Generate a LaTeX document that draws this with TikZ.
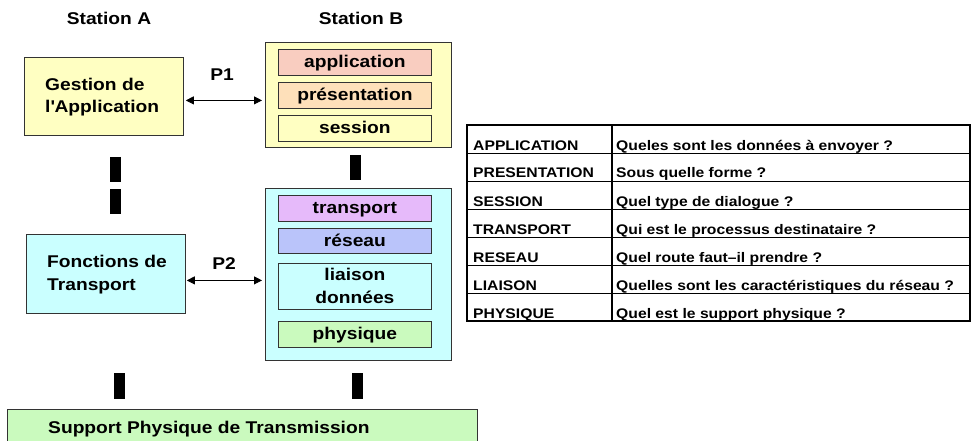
\documentclass[tikz,border=0pt]{standalone}
\usepackage{fontspec}
\setmainfont{Liberation Sans}[FakeStretch=1.13]
\usetikzlibrary{arrows.meta,positioning}

\definecolor{boxyellow}{RGB}{255,255,194}
\definecolor{apppink}{RGB}{249,205,192}
\definecolor{prespeach}{RGB}{254,224,186}
\definecolor{boxcyan}{RGB}{202,255,255}
\definecolor{transviolet}{RGB}{230,186,250}
\definecolor{netblue}{RGB}{186,196,250}
\definecolor{phygreen}{RGB}{202,250,190}

\begin{document}
\begin{tikzpicture}[x=1pt, y=-1pt,
    box/.style={draw=black!80, line width=0.8pt, inner sep=0pt, anchor=north west,
        font=\bfseries\fontsize{17}{22}\selectfont},
    layer/.style={box, minimum width=153pt, minimum height=26pt, text height=12pt, text depth=1pt},
    boxtext/.style={inner sep=0pt, align=left, font=\bfseries\fontsize{17}{22}\selectfont},
    title/.style={font=\bfseries\fontsize{17}{20}\selectfont},
    link/.style={{Triangle[length=8pt,width=8pt]}-{Triangle[length=8pt,width=8pt]}, line width=0.8pt,
        shorten <=2pt, shorten >=3pt},
    bar/.style={line width=11pt},
    cell/.style={anchor=base west, inner sep=0pt, font=\bfseries\fontsize{13.9}{16}\selectfont}]
    \useasboundingbox (0,0) rectangle (972,441);
    \clip (0,0) rectangle (972,441);

    \node[title] (stA) at (109,18) {Station A};
    \node[title] (stB) at (361,18) {Station B};

    \node[box, fill=boxyellow, minimum width=159pt, minimum height=78pt] (gestion) at (24,57) {};
    \node[boxtext, right=21pt of gestion.west, anchor=west, yshift=-1pt] (gestionTxt) {Gestion de\\l\textquotesingle Application};
    \node[box, fill=boxcyan, minimum width=159pt, minimum height=79pt] (fonctions) at (26,234) {};
    \node[boxtext, right=21pt of fonctions.west, anchor=west, yshift=-1pt, font=\bfseries\fontsize{17}{23}\selectfont]
        (fonctionsTxt) {Fonctions de\\Transport};

    \node[box, fill=boxyellow, minimum width=186pt, minimum height=105pt] (upperB) at (265,42) {};
    \node[layer, fill=apppink] (appl) at (278,49) {application};
    \node[layer, fill=prespeach] (pres) at (278,82) {présentation};
    \node[layer, fill=boxyellow] (sess) at (278,115) {session};

    \node[box, fill=boxcyan, minimum width=186pt, minimum height=172pt] (lowerB) at (265,188) {};
    \node[layer, fill=transviolet] (trans) at (278,195) {transport};
    \node[layer, fill=netblue, minimum height=25pt] (net) at (278,228) {réseau};
    \node[box, fill=boxcyan, minimum width=153pt, minimum height=46pt, align=center,
        font=\bfseries\fontsize{17}{23}\selectfont, yshift=-2pt] (link) at (278,261) {liaison\\données};
    \node[layer, fill=phygreen] (phys) at (278,321) {physique};

    \node[box, fill=phygreen, minimum width=470pt, minimum height=40pt] (support) at (7,409) {};
    \node[boxtext, right=41pt of support.west, anchor=west] (supportTxt) {Support Physique de Transmission};

    \node[title] (p1) at (222,75) {P1};
    \node[title] (p2) at (224,264) {P2};
    \draw[link] ([yshift=-4pt]gestion.east) -- ([yshift=-4pt]gestion.east -| upperB.west);
    \draw[link, shorten <=1pt] ([yshift=-6.5pt]fonctions.east) -- ([yshift=-6.5pt]fonctions.east -| lowerB.west);

    \draw[bar] (115.5,157) -- (115.5,182);
    \draw[bar] (115.5,189) -- (115.5,214);
    \draw[bar] (355,155) -- (355,180);
    \draw[bar] (119,373) -- (119,399);
    \draw[bar] (357.5,373) -- (357.5,399);

    % table of the layers
    \draw[line width=1.6pt] (467,125) rectangle (970,321);
    \draw[line width=1.4pt] (612,125) -- (612,321);
    \foreach \y in {153,181,...,293}
        \draw[line width=0.9pt] (467,\y) -- (970,\y);
    \foreach \key/\question [count=\i] in {APPLICATION/Queles sont les données à envoyer ?,
        PRESENTATION/Sous quelle forme ?, SESSION/Quel type de dialogue ?,
        TRANSPORT/Qui est le processus destinataire ?, RESEAU/Quel route faut–il prendre ?,
        LIAISON/Quelles sont les caractéristiques du réseau ?, PHYSIQUE/Quel est le support physique ?} {
        \node[cell] (key\i) at (473,{122+28*\i}) {\key};
        \node[cell] (ask\i) at (616,{122+28*\i}) {\question};
    }
\end{tikzpicture}
\end{document}
